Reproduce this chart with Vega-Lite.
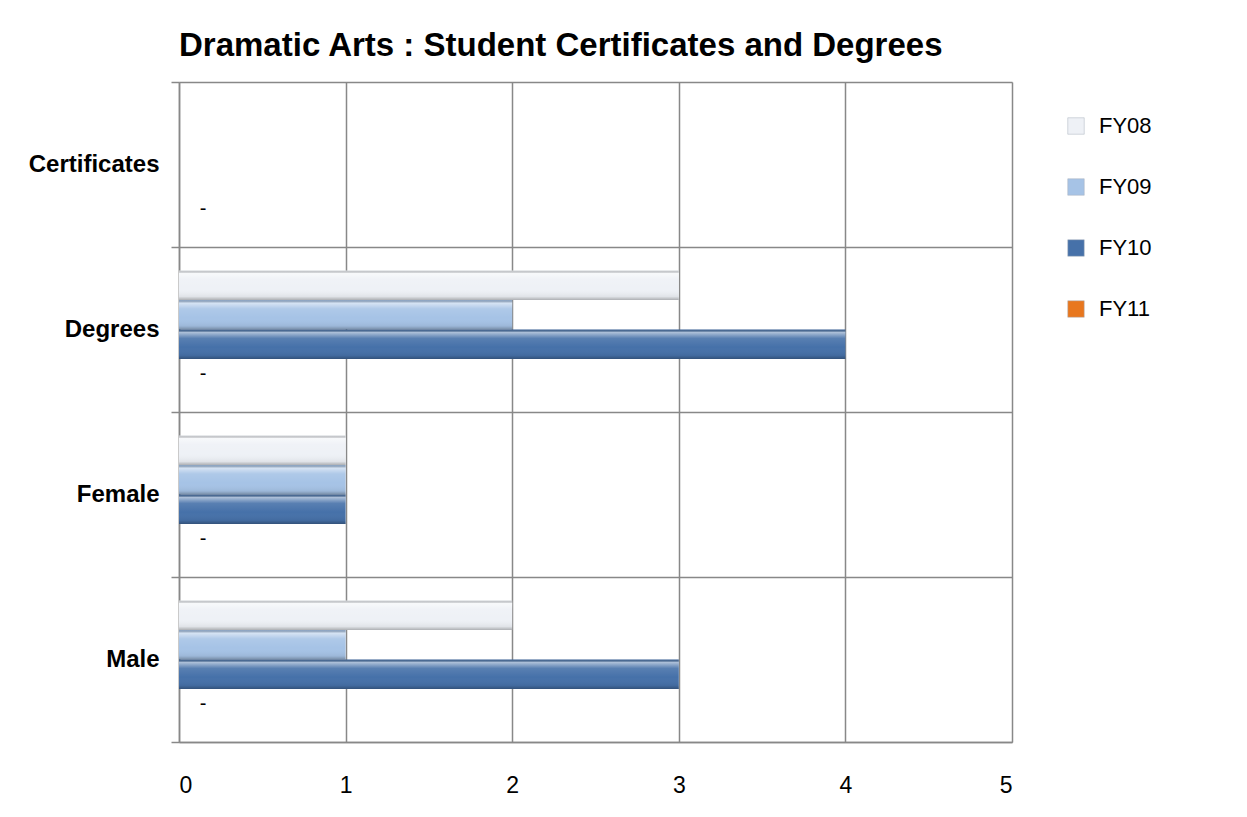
{
  "$schema": "https://vega.github.io/schema/vega-lite/v6.json",
  "width": 833,
  "height": 660,
  "autosize": "none",
  "padding": {"left": 179, "top": 82, "right": 235, "bottom": 75},
  "background": "white",
  "title": {
    "text": "Dramatic Arts : Student Certificates and Degrees",
    "font": "Liberation Sans",
    "fontSize": 33,
    "fontWeight": "bold",
    "color": "black",
    "anchor": "start",
    "frame": "group",
    "offset": 7
  },
  "data": {
    "values": [
      {"category": "Certificates", "series": "FY11", "value": 0},
      {"category": "Degrees", "series": "FY08", "value": 3},
      {"category": "Degrees", "series": "FY09", "value": 2},
      {"category": "Degrees", "series": "FY10", "value": 4},
      {"category": "Degrees", "series": "FY11", "value": 0},
      {"category": "Female", "series": "FY08", "value": 1},
      {"category": "Female", "series": "FY09", "value": 1},
      {"category": "Female", "series": "FY10", "value": 1},
      {"category": "Female", "series": "FY11", "value": 0},
      {"category": "Male", "series": "FY08", "value": 2},
      {"category": "Male", "series": "FY09", "value": 1},
      {"category": "Male", "series": "FY10", "value": 3},
      {"category": "Male", "series": "FY11", "value": 0}
    ]
  },
  "encoding": {
    "y": {
      "field": "category",
      "type": "nominal",
      "sort": ["Certificates", "Degrees", "Female", "Male"],
      "scale": {"paddingInner": 0, "paddingOuter": 0},
      "axis": {
        "title": null,
        "labelFont": "Liberation Sans",
        "labelFontSize": 24,
        "labelFontWeight": "bold",
        "labelColor": "black",
        "labelPadding": 12,
        "tickBand": "extent",
        "tickSize": 8,
        "tickColor": "#888888",
        "tickWidth": 1.5,
        "domainColor": "#888888",
        "domainWidth": 1.5,
        "grid": true,
        "gridColor": "#888888",
        "gridWidth": 1.5
      }
    },
    "yOffset": {
      "field": "series",
      "type": "nominal",
      "sort": ["FY08", "FY09", "FY10", "FY11"],
      "scale": {"domain": ["FY08", "FY09", "FY10", "FY11"], "paddingInner": 0, "paddingOuter": 0.8}
    },
    "x": {
      "field": "value",
      "type": "quantitative",
      "scale": {"domain": [0, 5], "nice": false},
      "axis": {
        "title": null,
        "values": [0, 1, 2, 3, 4, 5],
        "labelFont": "Liberation Sans",
        "labelFontSize": 23,
        "labelColor": "black",
        "labelPadding": 32,
        "ticks": false,
        "domainColor": "#888888",
        "domainWidth": 1.5,
        "grid": true,
        "gridColor": "#888888",
        "gridWidth": 1.5
      }
    }
  },
  "layer": [
    {
      "mark": {"type": "bar"},
      "encoding": {
        "color": {
          "field": "series",
          "type": "nominal",
          "sort": ["FY08", "FY09", "FY10", "FY11"],
          "scale": {
            "domain": ["FY08", "FY09", "FY10", "FY11"],
            "range": ["#eef1f6", "#a6c3e6", "#4671a9", "#e8771e"]
          },
          "legend": {
            "title": null,
            "orient": "none",
            "legendX": 886,
            "legendY": 33,
            "symbolType": "square",
            "symbolSize": 272,
            "symbolStrokeColor": "#aab2bd",
            "symbolStrokeWidth": 0.5,
            "labelFont": "Liberation Sans",
            "labelFontSize": 22,
            "labelColor": "black",
            "labelOffset": 12,
            "rowPadding": 39
          }
        }
      }
    },
    {
      "mark": {
        "type": "bar",
        "fill": {
          "gradient": "linear", "x1": 0, "y1": 0, "x2": 0, "y2": 1,
          "stops": [
            {"offset": 0, "color": "rgba(0,0,0,0.12)"},
            {"offset": 0.1, "color": "rgba(255,255,255,0.55)"},
            {"offset": 0.3, "color": "rgba(255,255,255,0.1)"},
            {"offset": 0.6, "color": "rgba(255,255,255,0)"},
            {"offset": 0.88, "color": "rgba(0,0,0,0.06)"},
            {"offset": 1, "color": "rgba(0,0,0,0.28)"}
          ]
        }
      },
      "encoding": {}
    },
    {
      "transform": [{"filter": "datum.series == 'FY11'"}],
      "mark": {"type": "text", "text": "-", "dx": 24, "align": "center", "fontSize": 20, "font": "Liberation Sans", "color": "black"},
      "encoding": {}
    }
  ]
}
